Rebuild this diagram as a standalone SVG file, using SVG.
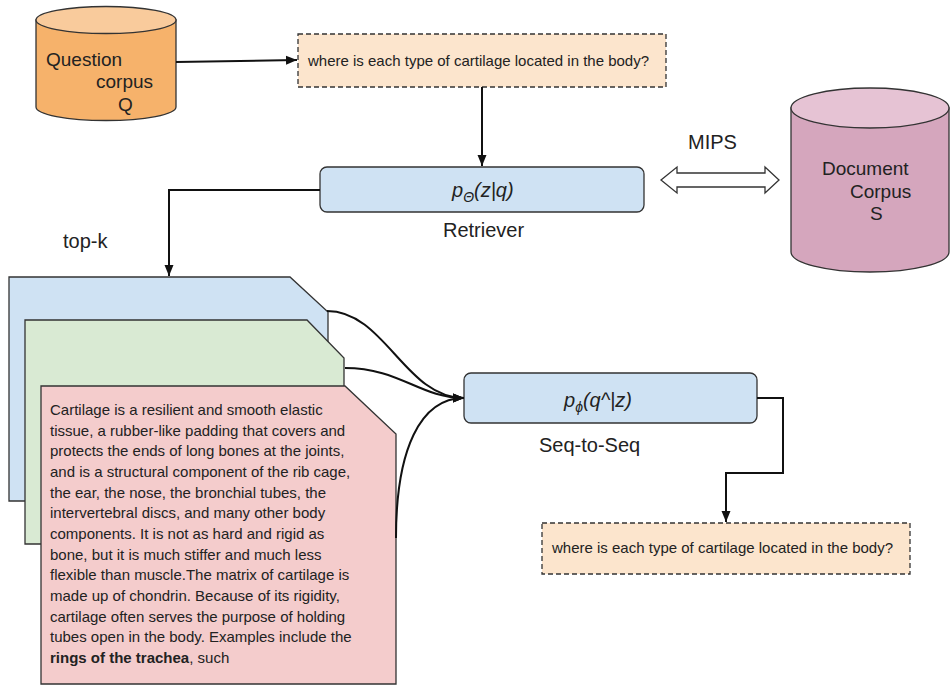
<svg xmlns="http://www.w3.org/2000/svg" width="950" height="686" viewBox="0 0 950 686">
<defs>
<marker id="ah" markerUnits="userSpaceOnUse" markerWidth="12" markerHeight="10" refX="11" refY="5" orient="auto">
<path d="M0,0.5 L11,5 L0,9.5 z" fill="#111"/>
</marker>
<style>
text{font-family:"Liberation Sans",Arial,sans-serif;fill:#222}
.lbl{font-size:20px}
.cyl{font-size:19px}
.q{font-size:15px}
.doc{font-size:15px}
.math{font-size:20px;font-style:italic}
.edge{fill:none;stroke:#111;stroke-width:2}
.shape{stroke:#333;stroke-width:1.3}
.dash{stroke:#333;stroke-width:1.3;stroke-dasharray:5,3}
</style>
</defs>
<rect width="950" height="686" fill="#ffffff"/>

<g id="question-corpus">
<path class="shape" d="M36,20 L36,107 A70,13.5 0 0 0 176,107 L176,20 Z" fill="#f6b26b"/>
<ellipse class="shape" cx="106" cy="20" rx="70" ry="13.5" fill="#f9cb9c"/>
<text class="cyl" x="46" y="66">Question</text>
<text class="cyl" x="96" y="88">corpus</text>
<text class="cyl" x="118" y="111">Q</text>
</g>

<g id="query-input">
<rect class="dash" x="298" y="34" width="368" height="53" fill="#fce5cd"/>
<text class="q" x="308" y="66">where is each type of cartilage located in the body?</text>
</g>

<g id="retriever">
<rect class="shape" x="320" y="167" width="324" height="45" rx="7" fill="#cfe2f3"/>
<text class="math" x="452" y="197">p<tspan font-size="14" dy="5">Θ</tspan><tspan dy="-5">(z|q)</tspan></text>
<text class="lbl" x="443" y="237">Retriever</text>
</g>

<g id="mips">
<path class="shape" d="M661,180 L677,167 L677,173 L765,173 L765,167 L779,180 L765,193 L765,187 L677,187 L677,193 Z" fill="#ffffff"/>
<text class="lbl" x="688" y="149">MIPS</text>
</g>

<g id="document-corpus">
<path class="shape" d="M791,108 L791,252 A79,20 0 0 0 949,252 L949,108 Z" fill="#d5a6bd"/>
<ellipse class="shape" cx="870" cy="108" rx="79" ry="20" fill="#e6c3d4"/>
<text class="cyl" x="822" y="175">Document</text>
<text class="cyl" x="850" y="198">Corpus</text>
<text class="cyl" x="870" y="220">S</text>
</g>

<text class="lbl" x="63" y="248">top-k</text>

<g id="doc-blue">
<path class="shape" d="M9,277 L290,277 L328,312 L328,501 L9,501 Z" fill="#cfe2f3"/>
</g>
<g id="doc-green">
<path class="shape" d="M25,320 L307,320 L344,358 L344,544 L25,544 Z" fill="#d9ead3"/>
</g>
<g id="doc-red">
<path class="shape" d="M41,386 L345,386 L396,434 L396,684 L41,684 Z" fill="#f4cccc"/>
<text class="doc" x="50" y="415">Cartilage is a resilient and smooth elastic</text>
<text class="doc" x="50" y="436">tissue, a rubber-like padding that covers and</text>
<text class="doc" x="50" y="456">protects the ends of long bones at the joints,</text>
<text class="doc" x="50" y="477">and is a structural component of the rib cage,</text>
<text class="doc" x="50" y="498">the ear, the nose, the bronchial tubes, the</text>
<text class="doc" x="50" y="518">intervertebral discs, and many other body</text>
<text class="doc" x="50" y="539">components. It is not as hard and rigid as</text>
<text class="doc" x="50" y="560">bone, but it is much stiffer and much less</text>
<text class="doc" x="50" y="580">flexible than muscle.The matrix of cartilage is</text>
<text class="doc" x="50" y="601">made up of chondrin. Because of its rigidity,</text>
<text class="doc" x="50" y="622">cartilage often serves the purpose of holding</text>
<text class="doc" x="50" y="642">tubes open in the body. Examples include the</text>
<text class="doc" x="50" y="663"><tspan font-weight="bold">rings of the trachea</tspan>, such</text>
</g>

<g id="seq2seq">
<rect class="shape" x="464" y="373" width="293" height="50" rx="7" fill="#cfe2f3"/>
<text class="math" x="564" y="407">p<tspan font-size="14" dy="5">ϕ</tspan><tspan dy="-5">(q^|z)</tspan></text>
<text class="lbl" x="539" y="452">Seq-to-Seq</text>
</g>

<g id="query-output">
<rect class="dash" x="542" y="523" width="368" height="51" fill="#fce5cd"/>
<text class="q" x="552" y="553">where is each type of cartilage located in the body?</text>
</g>

<g id="connectors">
<path class="edge" d="M176,62 L297,60" marker-end="url(#ah)"/>
<path class="edge" d="M482,87 L482,166" marker-end="url(#ah)"/>
<path class="edge" d="M320,190 L169,190 L169,276" marker-end="url(#ah)"/>
<path class="edge" d="M327,311 C385,311 405,398 464,398" marker-end="url(#ah)"/>
<path class="edge" d="M345,368 C400,368 420,398 464,398" marker-end="url(#ah)"/>
<path class="edge" d="M396,538 C396,450 420,398 464,398" marker-end="url(#ah)"/>
<path class="edge" d="M757,398 L783,398 L783,473 L726,473 L726,522" marker-end="url(#ah)"/>
</g>
</svg>
